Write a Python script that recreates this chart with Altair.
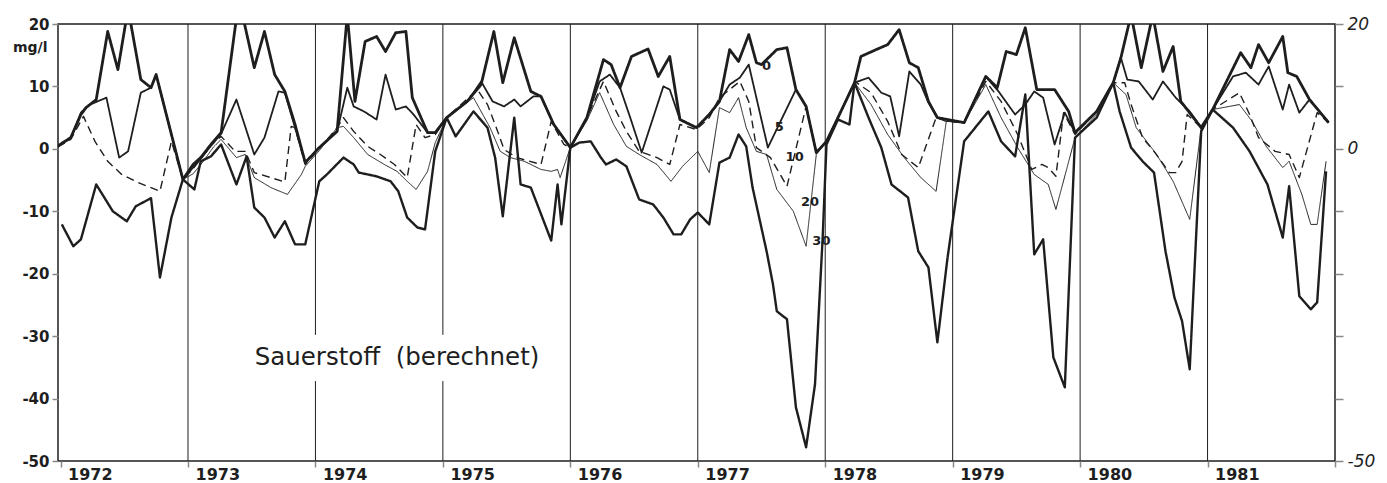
import altair as alt
import pandas as pd

# ---- data: decimal year, calculated oxygen (mg/l) per depth (m) ----
t_0m = [1971.98, 1972.08, 1972.16, 1972.20, 1972.28, 1972.37, 1972.45, 1972.53, 1972.63, 1972.71, 1972.75, 1972.96,
        1973.04, 1973.10, 1973.18, 1973.26, 1973.40, 1973.52, 1973.60, 1973.68, 1973.76, 1973.84, 1973.92, 1974.03,
        1974.17, 1974.25, 1974.31, 1974.39, 1974.48, 1974.55, 1974.63, 1974.71, 1974.76, 1974.88, 1974.94, 1975.03,
        1975.19, 1975.30, 1975.40, 1975.47, 1975.56, 1975.69, 1975.77, 1975.87, 1976.00,
        1976.13, 1976.26, 1976.32, 1976.39, 1976.48, 1976.61, 1976.69, 1976.78, 1976.86, 1976.99,
        1977.09, 1977.17, 1977.25, 1977.32, 1977.40, 1977.46, 1977.50, 1977.62, 1977.70, 1977.77, 1977.85, 1977.93, 1978.01,
        1978.10, 1978.23, 1978.28, 1978.40, 1978.49, 1978.58, 1978.66, 1978.73, 1978.81, 1978.88, 1979.09,
        1979.26, 1979.35, 1979.42, 1979.50, 1979.57, 1979.66, 1979.80, 1979.91, 1979.96,
        1980.13, 1980.26, 1980.32, 1980.40, 1980.48, 1980.57, 1980.65, 1980.73, 1980.79, 1980.95, 1981.04,
        1981.26, 1981.34, 1981.40, 1981.48, 1981.59, 1981.63, 1981.70, 1981.80, 1981.95]
v_0m = [0.5, 1.8, 5.5, 6.6, 7.9, 18.8, 12.7, 22.5, 11.1, 9.8, 11.9, -4.9,
        -2.5, -1.4, 0.7, 2.6, 24.0, 13.0, 18.8, 11.9, 9.2, 3.9, -2.2, 0.2,
        2.8, 21.5, 7.6, 17.2, 18.0, 15.6, 18.6, 18.8, 8.2, 2.6, 2.6, 5.0,
        7.6, 10.3, 18.8, 10.6, 17.8, 9.2, 8.4, 3.9, 0.2,
        5.0, 14.3, 13.5, 9.8, 14.8, 16.0, 11.6, 14.8, 4.7, 3.4,
        5.5, 7.6, 15.9, 14.0, 18.3, 13.8, 13.5, 15.9, 16.2, 9.5, 6.8, -0.6, 1.2,
        5.0, 10.6, 14.8, 15.9, 16.7, 19.1, 13.8, 13.0, 7.6, 5.0, 4.2,
        11.6, 9.8, 15.6, 15.1, 19.4, 9.5, 9.5, 6.0, 2.6,
        6.0, 10.6, 14.6, 21.5, 13.0, 21.5, 12.4, 16.4, 7.6, 3.4, 6.3,
        15.4, 13.0, 16.7, 13.8, 18.0, 12.2, 11.6, 7.9, 4.2]

t_5m = [1971.98, 1972.08, 1972.16, 1972.22, 1972.36, 1972.46, 1972.53, 1972.63, 1972.71, 1972.75, 1972.96,
        1973.04, 1973.10, 1973.18, 1973.26, 1973.38, 1973.52, 1973.60, 1973.71, 1973.76, 1973.84, 1973.92, 1974.03,
        1974.17, 1974.25, 1974.30, 1974.38, 1974.48, 1974.55, 1974.63, 1974.71, 1974.77, 1974.88, 1974.94, 1975.03,
        1975.19, 1975.30, 1975.39, 1975.48, 1975.56, 1975.61, 1975.71, 1975.77, 1975.87, 1976.00,
        1976.13, 1976.23, 1976.31, 1976.39, 1976.47, 1976.56, 1976.73, 1976.78, 1976.86, 1976.99,
        1977.09, 1977.17, 1977.25, 1977.33, 1977.40, 1977.55, 1977.77, 1977.85, 1977.93, 1978.01,
        1978.10, 1978.23, 1978.34, 1978.44, 1978.51, 1978.58, 1978.66, 1978.75, 1978.81, 1978.88, 1979.09,
        1979.26, 1979.36, 1979.49, 1979.57, 1979.64, 1979.71, 1979.80, 1979.88, 1979.96,
        1980.13, 1980.26, 1980.32, 1980.37, 1980.46, 1980.57, 1980.65, 1980.75, 1980.86, 1980.95, 1981.04,
        1981.20, 1981.30, 1981.40, 1981.48, 1981.59, 1981.64, 1981.72, 1981.80, 1981.95]
v_5m = [0.4, 1.7, 5.8, 7.0, 8.2, -1.4, -0.4, 9.0, 9.8, 11.9, -4.9,
        -3.0, -1.6, 0.5, 2.4, 7.9, -0.9, 1.8, 9.2, 9.0, 3.4, -2.2, 0.2,
        2.8, 9.8, 6.8, 6.0, 4.7, 11.9, 6.3, 6.8, 5.5, 2.6, 2.6, 5.0,
        7.5, 10.8, 7.6, 6.8, 7.9, 6.8, 8.4, 8.4, 3.9, 0.2,
        5.0, 10.8, 11.9, 9.8, 5.0, -0.6, 10.0, 9.5, 4.7, 3.4,
        5.5, 7.6, 10.3, 11.4, 13.5, 0.2, 9.5, 6.8, -0.6, 1.2,
        5.0, 10.6, 11.4, 9.0, 8.4, 2.0, 12.4, 10.3, 7.4, 5.0, 4.2,
        11.6, 9.2, 5.5, 7.1, 9.2, 8.2, 0.7, 5.8, 2.6,
        6.0, 10.6, 14.6, 11.1, 10.8, 7.9, 10.8, 8.2, 6.0, 3.4, 6.3,
        11.6, 12.2, 10.3, 13.2, 6.3, 10.3, 5.8, 7.9, 4.2]

t_10m = [1971.98, 1972.08, 1972.18, 1972.27, 1972.37, 1972.48, 1972.61, 1972.78, 1972.87, 1972.96,
         1973.04, 1973.18, 1973.26, 1973.37, 1973.45, 1973.52, 1973.76, 1973.81, 1973.84, 1973.92, 1974.03,
         1974.17, 1974.22, 1974.30, 1974.41, 1974.51, 1974.62, 1974.72, 1974.79, 1974.86, 1974.94, 1975.03,
         1975.27, 1975.35, 1975.43, 1975.48, 1975.58, 1975.77, 1975.85, 1975.95, 1976.00,
         1976.13, 1976.26, 1976.36, 1976.44, 1976.54, 1976.68, 1976.78, 1976.86, 1976.99,
         1977.09, 1977.17, 1977.33, 1977.40, 1977.46, 1977.57, 1977.70, 1977.85, 1977.93, 1978.01,
         1978.10, 1978.23, 1978.36, 1978.49, 1978.60, 1978.73, 1978.87, 1978.95, 1979.09,
         1979.26, 1979.38, 1979.51, 1979.62, 1979.70, 1979.75, 1979.81, 1979.87, 1979.96,
         1980.13, 1980.26, 1980.35, 1980.40, 1980.49, 1980.58, 1980.70, 1980.75, 1980.80, 1980.84, 1980.95, 1981.04,
         1981.25, 1981.33, 1981.40, 1981.53, 1981.64, 1981.72, 1981.86, 1981.95]
v_10m = [0.3, 1.5, 5.2, 1.2, -2.0, -4.1, -5.4, -6.8, 1.2, -4.9,
         -3.2, 0.6, 2.0, -0.4, -0.4, -3.8, -5.3, 3.6, 3.4, -2.5, 0.0,
         3.4, 5.0, 2.8, 0.4, -0.9, -2.5, -4.6, 3.9, 1.8, 2.3, 5.0,
         9.5, 7.1, 2.8, -0.1, -1.4, -2.5, 4.4, 0.7, 0.2,
         5.0, 10.8, 6.0, 2.8, -0.4, -1.4, -2.5, 3.9, 3.1,
         5.0, 8.2, 10.8, 7.6, 0.2, -1.4, -6.0, 6.8, -0.6, 1.2,
         5.0, 10.8, 9.0, 4.4, -0.9, -3.0, 5.0, 4.4, 4.2,
         10.8, 7.6, 2.3, -3.3, -2.5, -3.0, -4.4, 5.8, 2.3,
         6.0, 10.6, 10.6, 7.1, 1.8, -0.4, -3.8, -3.8, -2.0, 5.5, 3.4, 6.3,
         9.0, 5.5, 1.8, -0.4, -0.9, -4.6, 5.8, 4.2]

t_20m = [1972.96, 1973.04, 1973.12, 1973.20, 1973.26, 1973.38, 1973.45, 1973.52, 1973.65, 1973.78, 1973.89, 1973.92, 1974.03,
         1974.17, 1974.22, 1974.30, 1974.41, 1974.54, 1974.64, 1974.72, 1974.79, 1974.88, 1974.94, 1975.03,
         1975.24, 1975.37, 1975.45, 1975.53, 1975.64, 1975.77, 1975.85, 1975.90, 1975.92, 1976.00,
         1976.13, 1976.23, 1976.34, 1976.44, 1976.54, 1976.68, 1976.79, 1976.88, 1977.00,
         1977.09, 1977.17, 1977.25, 1977.32, 1977.38, 1977.46, 1977.54, 1977.62, 1977.75, 1977.85, 1977.93, 1978.01,
         1978.10, 1978.23, 1978.36, 1978.49, 1978.62, 1978.75, 1978.87, 1978.95, 1979.09,
         1979.26, 1979.38, 1979.51, 1979.64, 1979.75, 1979.81, 1979.89, 1979.96,
         1980.13, 1980.26, 1980.36, 1980.44, 1980.60, 1980.73, 1980.86, 1980.95, 1981.04,
         1981.25, 1981.35, 1981.46, 1981.59, 1981.64, 1981.74, 1981.81, 1981.86, 1981.93]
v_20m = [-4.9, -4.0, -2.0, 0.3, 1.5, -1.4, -0.9, -4.6, -6.2, -7.3, -4.1, -2.8, -0.3,
         3.4, 3.6, 1.8, -0.9, -2.5, -3.6, -5.2, -6.5, -3.6, 1.0, 5.0,
         8.2, 3.4, -0.4, -1.4, -2.0, -3.3, -3.6, -3.3, -4.6, 0.2,
         4.5, 9.0, 3.9, 0.4, -0.9, -2.5, -5.2, -2.8, -0.4,
         -3.8, 6.6, 5.8, 8.2, 3.4, -0.4, -0.9, -6.5, -10.0, -15.6, -0.9, 1.2,
         5.0, 10.6, 7.1, 2.3, -1.4, -4.6, -6.8, 4.4, 4.2,
         10.3, 5.0, 0.2, -4.1, -5.7, -9.7, -3.6, 1.8,
         5.5, 10.6, 8.7, 3.4, -0.9, -5.2, -11.3, 3.4, 6.3,
         7.1, 4.4, 0.4, -3.0, -2.0, -7.3, -12.1, -12.1, -2.0]

t_30m = [1972.01, 1972.10, 1972.16, 1972.28, 1972.41, 1972.52, 1972.59, 1972.71, 1972.78, 1972.87, 1972.96,
         1973.05, 1973.10, 1973.18, 1973.26, 1973.38, 1973.46, 1973.52, 1973.60, 1973.68, 1973.76, 1973.84, 1973.92, 1974.03,
         1974.09, 1974.22, 1974.30, 1974.34, 1974.48, 1974.59, 1974.65, 1974.72, 1974.80, 1974.86, 1974.94, 1975.03,
         1975.10, 1975.24, 1975.35, 1975.41, 1975.47, 1975.56, 1975.61, 1975.69, 1975.85, 1975.90, 1975.93, 1976.00,
         1976.07, 1976.16, 1976.24, 1976.28, 1976.36, 1976.44, 1976.54, 1976.65, 1976.73, 1976.81, 1976.87, 1976.94, 1977.00,
         1977.09, 1977.17, 1977.25, 1977.32, 1977.38, 1977.43, 1977.54, 1977.59, 1977.62, 1977.70, 1977.77, 1977.85, 1977.92, 1977.98,
         1978.01, 1978.10, 1978.19, 1978.23, 1978.34, 1978.44, 1978.52, 1978.65, 1978.73, 1978.81, 1978.88, 1978.96, 1979.09,
         1979.28, 1979.38, 1979.49, 1979.57, 1979.64, 1979.71, 1979.79, 1979.88, 1979.96,
         1980.13, 1980.26, 1980.31, 1980.40, 1980.49, 1980.58, 1980.67, 1980.74, 1980.80, 1980.86, 1980.95, 1981.04,
         1981.20, 1981.33, 1981.47, 1981.59, 1981.64, 1981.72, 1981.81, 1981.86, 1981.93]
v_30m = [-12.1, -15.6, -14.5, -5.7, -10.0, -11.6, -9.2, -7.9, -20.6, -11.0, -4.9,
         -6.5, -2.0, -1.2, 0.7, -5.7, -1.2, -9.4, -11.0, -14.2, -11.6, -15.3, -15.3, -5.2,
         -4.1, -1.4, -2.5, -3.8, -4.4, -5.2, -6.8, -11.0, -12.6, -12.9, -0.4, 5.0,
         2.0, 6.0, 3.4, -1.4, -10.8, 5.0, -5.7, -6.2, -14.7, -5.7, -12.1, 0.2,
         1.0, 1.2, -1.4, -2.5, -1.7, -2.8, -8.1, -8.9, -11.0, -13.7, -13.7, -11.3, -10.2,
         -12.1, -2.2, -1.4, 2.3, 0.4, -6.2, -16.4, -21.7, -26.0, -27.3, -41.4, -47.8, -37.7, -14.2,
         0.7, 4.7, 3.9, 10.6, 5.0, 0.2, -5.7, -7.8, -16.4, -19.0, -31.0, -17.4, 1.2,
         6.0, 1.2, -1.2, 8.7, -16.9, -14.5, -33.4, -38.2, 1.8,
         5.0, 10.6, 6.0, 0.2, -2.0, -3.8, -16.4, -23.8, -27.6, -35.3, 2.8, 6.3,
         3.4, -0.4, -5.7, -14.2, -6.0, -23.6, -25.7, -24.6, -3.6]

depths = ["0", "5", "10", "20", "30"]

# depth labels placed beside the 1977 curves
label_text = ["0", "5", "10", "20", "30"]
label_t = [1977.54, 1977.64, 1977.76, 1977.88, 1977.97]
label_v = [13.2, 3.5, -1.3, -8.5, -14.8]

# year boundary lines (segments; gap where the caption sits)
grid_t = [1973, 1974, 1974, 1975, 1975, 1976, 1977, 1978, 1979, 1980, 1981]
grid_lo = [-50, -50, -29.8, -50, -29.8, -50, -50, -50, -50, -50, -50]
grid_hi = [20, -37.2, 20, -37.2, 20, 20, 20, 20, 20, 20, 20]

year_ticks = list(range(1972, 1983))
y_ticks = [-50, -40, -30, -20, -10, 0, 10, 20]

caption = "Sauerstoff\u00a0 (berechnet)"
caption_t = [1974.64]
caption_v = [-33.5]

# ---- build tables ----
series = {"0": (t_0m, v_0m), "5": (t_5m, v_5m), "10": (t_10m, v_10m),
          "20": (t_20m, v_20m), "30": (t_30m, v_30m)}
line_style = {"0": (2.8, [1, 0]), "5": (1.8, [1, 0]), "10": (1.4, [8, 5]),
              "20": (1.0, [1, 0]), "30": (2.4, [1, 0])}

df_lab = pd.DataFrame({"t": label_t, "v": label_v, "txt": label_text})
df_grid = pd.DataFrame({"t": grid_t, "lo": grid_lo, "hi": grid_hi})
df_cap = pd.DataFrame({"t": caption_t, "v": caption_v, "txt": [caption]})

INK = "#1e1e1e"
FONT = "DejaVu Sans"

xs = alt.Scale(domain=[1971.98, 1982.0], nice=False, zero=False)
ys = alt.Scale(domain=[-50, 20], nice=False, zero=False)

x_axis = alt.Axis(values=year_ticks, grid=False, tickSize=6, tickWidth=1.5,
                  labelExpr="datum.value < 1982 ? '' + datum.value : ''",
                  labelAlign="left", labelOffset=7, labelPadding=12,
                  labelBaseline="alphabetic",
                  labelFontSize=16, labelFontWeight="bold", labelFont=FONT,
                  labelColor=INK, domain=False, labelFlush=False, title=None)
y_axis = alt.Axis(orient="left", values=y_ticks, grid=False, tickSize=6, tickWidth=1.5,
                  labelExpr="'' + datum.value", labelFontSize=15, labelFontWeight="bold",
                  labelFont=FONT, labelColor=INK, labelPadding=3, domain=False,
                  title="mg/l", titleAngle=0, titleAlign="right", titleBaseline="middle",
                  titleX=-11, titleY=23, titleFont=FONT, titleFontSize=14,
                  titleFontWeight="bold", titleColor=INK)


def xenc(field="t:Q"):
    return alt.X(field, scale=xs, axis=x_axis)


layers = []
grid = alt.Chart(df_grid).mark_rule(color=INK, strokeWidth=1).encode(
    x=xenc(),
    y=alt.Y("lo:Q", scale=ys, title=None,
            axis=alt.Axis(orient="right", values=y_ticks, grid=False, tickSize=8, tickWidth=1.5,
                          labelExpr="datum.value == 20 || datum.value == 0 || datum.value == -50 ? '' + datum.value : ''",
                          labelFontSize=17, labelFontStyle="italic", labelFont=FONT,
                          labelColor=INK, labelPadding=4, domain=False)),
    y2="hi:Q",
)
layers.append(grid)

for i, d in enumerate(depths):
    ts, vs = series[d]
    sw, dash = line_style[d]
    dfd = pd.DataFrame({"t": ts, "v": vs})
    first = i == 0
    layers.append(
        alt.Chart(dfd).mark_line(clip=True, color=INK, strokeWidth=sw, strokeDash=dash,
                                 strokeJoin="round").encode(
            x=xenc(),
            y=alt.Y("v:Q", scale=ys, axis=y_axis if first else None),
        )
    )

labels = alt.Chart(df_lab).mark_text(font=FONT, fontSize=13, fontWeight="bold", color=INK,
                                     align="center", baseline="middle").encode(
    x=xenc(),
    y=alt.Y("v:Q", scale=ys, axis=None),
    text="txt:N",
)
cap = alt.Chart(df_cap).mark_text(font=FONT, fontSize=24.5, color=INK,
                                  align="center", baseline="middle").encode(
    x=xenc(),
    y=alt.Y("v:Q", scale=ys, axis=None),
    text="txt:N",
)
layers += [labels, cap]

chart = alt.layer(*layers).resolve_axis(y="independent").properties(
    width=1277, height=437,
    padding={"left": 50, "top": 16, "right": 44, "bottom": 22},
    autosize=alt.AutoSizeParams(type="none"),
    background="white",
).configure_view(stroke=INK, strokeWidth=1.5)

chart.save("out.html", embed_options={"renderer": "svg", "actions": False})
